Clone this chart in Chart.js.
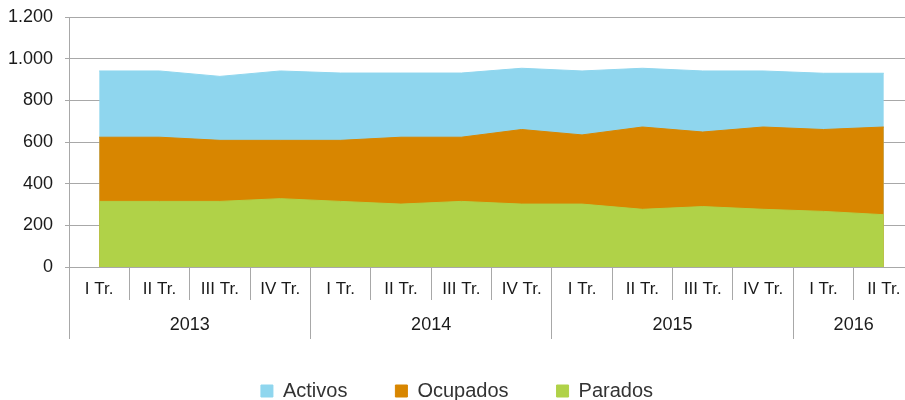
<!DOCTYPE html>
<html>
<head>
<meta charset="utf-8">
<script src="https://cdn.jsdelivr.net/npm/chart.js@4"></script>
<style>
  html, body { margin: 0; padding: 0; background: #fff; overflow: hidden; }
  #wrap { width: 914px; height: 411px; position: relative; }
</style>
</head>
<body>
<div id="wrap"><canvas id="chart"></canvas></div>
<script>
// Datos (miles de personas)
const quarters = ["I Tr.", "II Tr.", "III Tr.", "IV Tr.", "I Tr.", "II Tr.", "III Tr.", "IV Tr.",
  "I Tr.", "II Tr.", "III Tr.", "IV Tr.", "I Tr.", "II Tr."];
const years = ["2013", "2014", "2015", "2016"];
const quartersPerYear = [4, 4, 4, 2];

const activos = [941, 941, 915, 941, 931, 931, 931, 954, 941, 954, 941, 941, 930, 930];
const ocupados = [623, 623, 608, 608, 608, 623, 623, 660, 634, 672, 648, 672, 660, 672];
const parados = [315, 315, 315, 328, 315, 302, 315, 302, 302, 277, 290, 277, 267, 251];

const gridColor = "#a8a8a8";
const textColor = "#1a1a1a";
const font = "'Liberation Sans', Arial, Helvetica, sans-serif";

// Limites y centros de cada año en el eje de años
const yearBounds = [0];
const yearCenters = [];
quartersPerYear.forEach((n) => {
  const start = yearBounds[yearBounds.length - 1];
  yearCenters.push(start + n / 2);
  yearBounds.push(start + n);
});

const fmt = (v) => {
  if (v >= 1000) {
    return Math.floor(v / 1000) + "." + String(v % 1000).padStart(3, "0");
  }
  return String(v);
};

const area = (label, data, color, order) => ({
  label: label,
  data: data,
  xAxisID: "x",
  backgroundColor: color,
  borderColor: color,
  borderWidth: 1,
  fill: "origin",
  pointRadius: 0,
  pointHoverRadius: 0,
  tension: 0,
  order: order,
});

new Chart(document.getElementById("chart"), {
  type: "line",
  data: {
    labels: quarters,
    datasets: [
      area("Activos", activos, "#8fd6ee", 3),
      area("Ocupados", ocupados, "#d88600", 2),
      area("Parados", parados, "#b0d248", 1),
    ],
  },
  options: {
    responsive: true,
    maintainAspectRatio: false,
    animation: false,
    layout: { padding: { top: 17, left: 0, right: 0, bottom: 0 } },
    plugins: {
      tooltip: { enabled: false },
      legend: {
        position: "bottom",
        labels: {
          boxWidth: 12,
          boxHeight: 12,
          padding: 48,
          color: "#333",
          font: { family: font, size: 20 },
          sort: (a, b) => a.datasetIndex - b.datasetIndex,
        },
      },
    },
    scales: {
      x: {
        type: "category",
        offset: true,
        grid: { offset: true, drawOnChartArea: false, tickLength: 33, color: gridColor },
        border: { display: true, color: gridColor },
        ticks: {
          padding: -21,
          color: textColor,
          autoSkip: false,
          maxRotation: 0,
          font: { family: font, size: 17 },
        },
        afterFit: (s) => { s.height = 33; },
      },
      x2: {
        type: "linear",
        position: "bottom",
        min: 0,
        max: yearBounds[yearBounds.length - 1],
        afterBuildTicks: (s) => {
          const vals = yearBounds.concat(yearCenters).sort((a, b) => a - b);
          s.ticks = vals.map((v) => ({ value: v }));
        },
        grid: {
          drawOnChartArea: false,
          tickLength: 39,
          color: (ctx) => (ctx.tick && yearBounds.includes(ctx.tick.value) ? gridColor : "rgba(0,0,0,0)"),
        },
        border: { display: false },
        ticks: {
          padding: -25,
          color: textColor,
          autoSkip: false,
          maxRotation: 0,
          font: { family: font, size: 18 },
          callback: (v) => {
            const i = yearCenters.indexOf(v);
            return i >= 0 ? years[i] : "";
          },
        },
        afterFit: (s) => { s.height = 33; },
      },
      y: {
        min: 0,
        max: 1200,
        ticks: {
          stepSize: 200,
          padding: 12,
          color: textColor,
          font: { family: font, size: 18 },
          callback: (v) => fmt(v),
        },
        grid: { color: gridColor, tickLength: 4 },
        border: { display: true, color: gridColor },
        afterFit: (s) => {
          s.width = 69;
          s.paddingTop = 0;
          s.paddingBottom = 0;
        },
      },
    },
  },
});
</script>
</body>
</html>
